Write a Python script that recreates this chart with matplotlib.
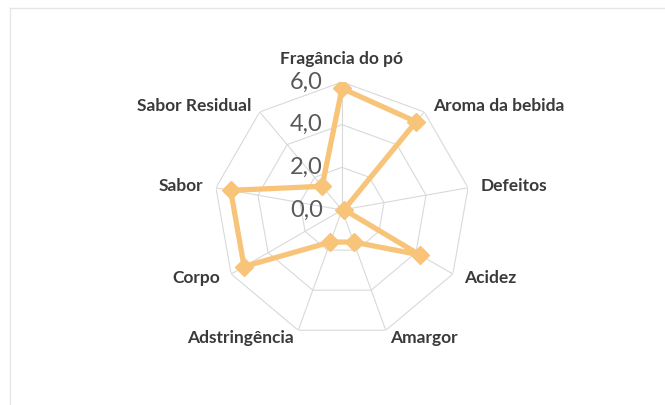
import numpy as np
import matplotlib.pyplot as plt
from matplotlib.lines import Line2D

# Categories (clockwise from top) and scores
categories = ["Fragância do pó", "Aroma da bebida", "Defeitos", "Acidez", "Amargor",
              "Adstringência", "Corpo", "Sabor", "Sabor Residual"]
values = [5.7, 5.4, 0.1, 4.2, 1.6, 1.6, 5.3, 5.3, 1.45]
ring_values = [0, 2, 4, 6]
ring_labels = ["0,0", "2,0", "4,0", "6,0"]

line_color = "#F8C47A"
grid_color = "#D9D9D9"
label_color = "#3A3A3A"

W, H = 665, 405
fig = plt.figure(figsize=(W / 100, H / 100), dpi=100)

cx, cy, R = 342, 195, 128
ax = fig.add_axes([(cx - R) / W, (cy - R) / H, 2 * R / W, 2 * R / H], polar=True)
ax.set_theta_zero_location("N")
ax.set_theta_direction(-1)
ax.set_ylim(0, 6)
ax.grid(False)
ax.spines["polar"].set_visible(False)
ax.set_xticks([])
ax.set_yticks([])

n = len(categories)
angles = np.arange(n) * 2 * np.pi / n
closed = np.append(angles, angles[0])

# polygon rings and spokes
for rv in ring_values[1:]:
    ax.plot(closed, [rv] * (n + 1), color=grid_color, lw=0.8, zorder=1)
for a in angles:
    ax.plot([a, a], [0, 6], color=grid_color, lw=0.8, zorder=1)

# data
vals = np.append(values, values[0])
ax.plot(closed, vals, color=line_color, lw=3.8, zorder=3, solid_joinstyle="round")
ax.plot(angles, values, linestyle="none", marker="D", ms=9, color=line_color, zorder=4)

# ring value labels
for rv, lab in zip(ring_values, ring_labels):
    ax.annotate(lab, xy=(0, rv), xytext=(-19, 0), textcoords="offset pixels",
                ha="right", va="center", fontsize=17, color="#595959",
                family="Lato", annotation_clip=False)

# category labels
for a, cat in zip(angles, categories):
    s, c = np.sin(a), np.cos(a)
    if abs(s) < 0.1:
        ha = "center"
    elif s > 0:
        ha = "left"
    else:
        ha = "right"
    if c > 0.9:
        va, off = "bottom", (0, 15)
    else:
        va, off = "center", (13 * s, 8 * c)
    ax.annotate(cat, xy=(a, 6), xytext=off, textcoords="offset pixels",
                ha=ha, va=va, fontsize=12.5, fontweight="bold", color=label_color,
                family="Lato", annotation_clip=False)

# chart frame (faint)
fig.add_artist(Line2D([10 / W, 10 / W], [0, 1 - 8 / H], color="#E6E6E6", lw=1))
fig.add_artist(Line2D([10 / W, 1], [1 - 8 / H, 1 - 8 / H], color="#E6E6E6", lw=1))

fig.savefig("out.png", dpi=100)
